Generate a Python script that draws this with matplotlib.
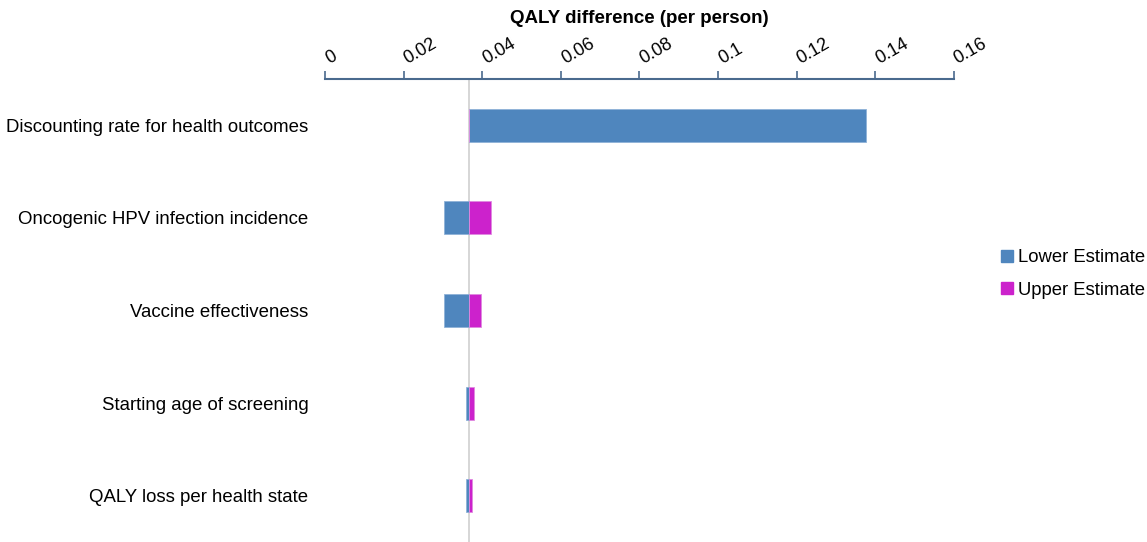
import matplotlib
matplotlib.use("Agg")
import matplotlib.pyplot as plt
import matplotlib.transforms as mtransforms
from matplotlib.lines import Line2D

plt.rcParams["font.family"] = ["Liberation Sans", "DejaVu Sans"]

# Tornado chart data: one-way sensitivity of the QALY difference per person
parameters = [
    "Discounting rate for health outcomes",
    "Oncogenic HPV infection incidence",
    "Vaccine effectiveness",
    "Starting age of screening",
    "QALY loss per health state",
]
base_value = 0.0366
lower_estimate = [0.1377, 0.0303, 0.0302, 0.0359, 0.0359]
upper_estimate = [0.0366, 0.0423, 0.0397, 0.0378, 0.0373]

x_ticks = [0, 0.02, 0.04, 0.06, 0.08, 0.10, 0.12, 0.14, 0.16]
x_tick_labels = ["0", "0.02", "0.04", "0.06", "0.08", "0.1", "0.12", "0.14", "0.16"]

blue = "#4F86BE"
magenta = "#CC22CC"
axis_color = "#4A6A8E"

W, H = 1147, 542
fig = plt.figure(figsize=(W / 100, H / 100), dpi=100)
ax = fig.add_axes([325 / W, 0.0, (953.7 - 325) / W, 1 - 79 / H])

positions = list(range(len(parameters)))
bar_h = 0.357
ax.barh(positions, [v - base_value for v in lower_estimate], left=base_value,
        height=bar_h, color=blue, edgecolor="#8FB2D8", linewidth=0.6, zorder=3)
ax.barh(positions, [v - base_value for v in upper_estimate], left=base_value,
        height=bar_h, color=magenta, edgecolor="#E08AE0", linewidth=0.6, zorder=3)

# vertical reference line at the base-case value
ax.axvline(base_value, color="#D0D0D0", linewidth=1.2, zorder=2)

ax.set_xlim(0, 0.16)
ax.set_ylim(len(parameters) - 0.5, -0.5)

# value axis along the top, with slanted labels
ax.xaxis.tick_top()
ax.set_xticks(x_ticks)
ax.set_xticklabels([])
ax.tick_params(axis="x", direction="out", length=6, width=1.2, color=axis_color)
label_tr = (mtransforms.blended_transform_factory(ax.transData, ax.transAxes)
            + mtransforms.ScaledTranslation(6 / 100, 12 / 100, fig.dpi_scale_trans))
for xv, txt in zip(x_ticks, x_tick_labels):
    ax.text(xv, 1.0, txt, transform=label_tr, rotation=30, rotation_mode="anchor",
            ha="left", va="bottom", fontsize=13, clip_on=False)

fig.text(639.5 / W, 1 - 23.3 / H, "QALY difference (per person)", fontsize=13.5,
         fontweight="bold", ha="center", va="baseline")

ax.set_yticks(positions)
ax.set_yticklabels(parameters, fontsize=13.45)
ax.tick_params(axis="y", length=0, pad=12)

for side in ("left", "right", "bottom"):
    ax.spines[side].set_visible(False)
ax.spines["top"].set_color(axis_color)
ax.spines["top"].set_linewidth(1.5)

handles = [
    Line2D([], [], marker="s", linestyle="none", markersize=8,
           markerfacecolor=blue, markeredgecolor=blue),
    Line2D([], [], marker="s", linestyle="none", markersize=8,
           markerfacecolor=magenta, markeredgecolor=magenta),
]
fig.legend(handles, ["Lower Estimate", "Upper Estimate"], loc="center left",
           bbox_to_anchor=(992 / W, 1 - 274 / H), frameon=False,
           fontsize=13.3, handlelength=0.8, handletextpad=0.2,
           labelspacing=0.85, borderaxespad=0)

fig.savefig("out.png", dpi=100)
